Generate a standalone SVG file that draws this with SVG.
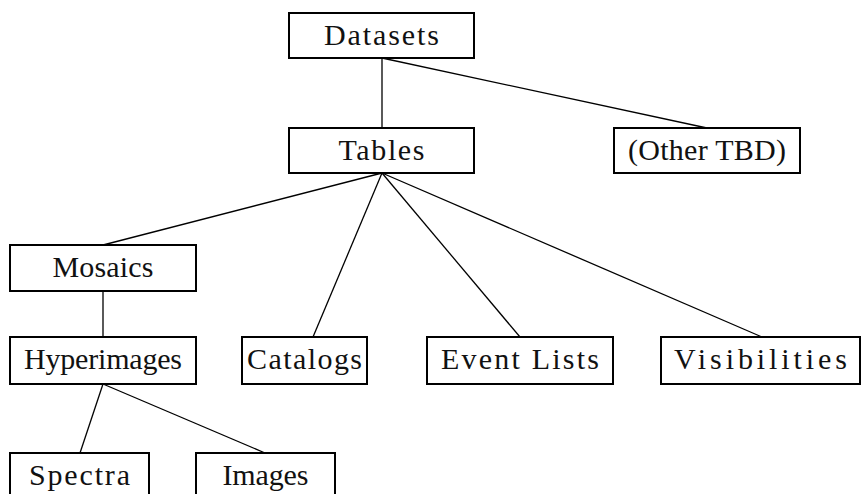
<svg xmlns="http://www.w3.org/2000/svg" width="862" height="494" viewBox="0 0 862 494">
<style>
.box{fill:#fff;stroke:#000;stroke-width:2}
.lbl{font-family:"Liberation Serif","DejaVu Serif",serif;font-size:30px;fill:#111;text-anchor:middle}
.edge{stroke:#000;stroke-width:1.3;fill:none}
</style>
<rect width="862" height="494" fill="#fff"/>
<g id="connectors">
<line class="edge" x1="382" y1="58" x2="382" y2="128"/>
<line class="edge" x1="382" y1="58" x2="707" y2="128"/>
<line class="edge" x1="382" y1="173" x2="103" y2="245"/>
<line class="edge" x1="382" y1="173" x2="313" y2="337"/>
<line class="edge" x1="382" y1="173" x2="520" y2="337"/>
<line class="edge" x1="382" y1="173" x2="762" y2="337"/>
<line class="edge" x1="103" y1="291" x2="103" y2="337"/>
<line class="edge" x1="103" y1="384" x2="80" y2="453"/>
<line class="edge" x1="103" y1="384" x2="265" y2="453"/>
</g>
<g id="datasets"><rect class="box" x="289" y="13" width="185" height="45"/><text class="lbl" x="381.5" y="45" textLength="115" lengthAdjust="spacing">Datasets</text></g>
<g id="tables"><rect class="box" x="289" y="128" width="185" height="45"/><text class="lbl" x="381.5" y="160" textLength="86" lengthAdjust="spacing">Tables</text></g>
<g id="other"><rect class="box" x="614" y="128" width="186" height="45"/><text class="lbl" x="707" y="160" textLength="158" lengthAdjust="spacing">(Other TBD)</text></g>
<g id="mosaics"><rect class="box" x="10" y="245" width="186" height="46"/><text class="lbl" x="103" y="277" textLength="101" lengthAdjust="spacing">Mosaics</text></g>
<g id="hyperimages"><rect class="box" x="10" y="337" width="186" height="47"/><text class="lbl" x="103" y="369" textLength="158" lengthAdjust="spacing">Hyperimages</text></g>
<g id="catalogs"><rect class="box" x="242" y="337" width="125" height="47"/><text class="lbl" x="304.5" y="369" textLength="115" lengthAdjust="spacing">Catalogs</text></g>
<g id="eventlists"><rect class="box" x="427" y="337" width="186" height="47"/><text class="lbl" x="520" y="369" textLength="158" lengthAdjust="spacing">Event Lists</text></g>
<g id="visibilities"><rect class="box" x="661" y="337" width="199" height="47"/><text class="lbl" x="760.5" y="369" textLength="173" lengthAdjust="spacing">Visibilities</text></g>
<g id="spectra"><rect class="box" x="10" y="453" width="139" height="47"/><text class="lbl" x="79.5" y="485" textLength="101" lengthAdjust="spacing">Spectra</text></g>
<g id="images"><rect class="box" x="196" y="453" width="139" height="47"/><text class="lbl" x="265.5" y="485" textLength="86" lengthAdjust="spacing">Images</text></g>
</svg>
